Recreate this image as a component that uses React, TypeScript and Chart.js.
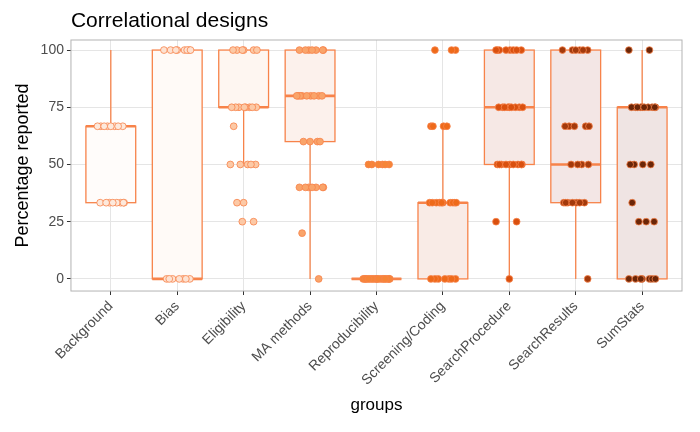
import React, { useEffect, useRef } from "react";
import { Chart, registerables } from "chart.js";
Chart.register(...registerables);

const categories = ["Background","Bias","Eligibility","MA methods","Reproducibility","Screening/Coding","SearchProcedure","SearchResults","SumStats"];
// [lowerWhisker, q1, median, q3, upperWhisker]
const boxStats = [
  [33.3,33.3,66.7,66.7,100],[0,0,0,100,100],[50,75,75,100,100],[0,60,80,100,100],
  [0,0,0,0,0],[0,0,33.3,33.3,66.7],[0,50,75,100,100],[0,33.3,50,100,100],[0,0,75,75,100]];
// [value, count] per group
const groupPoints = [
  [[66.7,8],[33.3,8]],
  [[100,8],[0,7]],
  [[100,6],[75,8],[66.7,1],[50,5],[33.3,2],[25,2]],
  [[100,7],[80,9],[60,4],[40,7],[20,1],[0,1]],
  [[50,6],[0,20]],
  [[100,3],[66.7,4],[33.3,10],[0,7]],
  [[100,8],[75,9],[50,9],[25,2],[0,1]],
  [[100,6],[66.7,5],[50,4],[33.3,7],[0,1]],
  [[100,2],[75,10],[50,4],[33.3,1],[25,3],[0,7]],
];
const pointFills = ["#fde9dc","#fde2d2","#fcc9a6","#f9a46a","#f68537","#ee6a1a","#d9500f","#a33a0c","#6b2608"];
const boxFills = ["#fffcfa","#fffaf7","#fef6f1","#fcf1ec","#fbede8","#f9ebe6","#f6e8e5","#f3e6e5","#efe4e3"];
const yTicks = [0,25,50,75,100];
const jitter = [-0.15,0.06,-0.05,0.18,-0.2,0.11,0.0,-0.1,0.15,-0.02,0.2,-0.16,0.09,-0.07,0.03,0.19,-0.12,0.13,-0.18,0.01];
const stroke = "#f7834a";
const font = "'Liberation Sans', Arial, sans-serif";

export default function App() {
  const ref = useRef<HTMLCanvasElement>(null);
  useEffect(() => {
    const datasets = groupPoints.map((g, gi) => {
      const data: any[] = []; let k = 0;
      g.forEach(([v, c]) => { for (let i = 0; i < c; i++) { data.push({ x: gi + 1 + jitter[(k + gi * 3) % jitter.length], y: v }); k++; } });
      return { type: "scatter" as const, data, backgroundColor: pointFills[gi], borderColor: stroke, borderWidth: 0.8, pointRadius: 3.4 };
    });
    const boxPlugin = {
      id: "boxes",
      beforeDatasetsDraw(chart: any) {
        const { ctx, scales: { x, y } } = chart;
        ctx.save(); ctx.strokeStyle = stroke; ctx.lineWidth = 1.3;
        boxStats.forEach((s, i) => {
          const cx = x.getPixelForValue(i + 1), hw = x.getPixelForValue(1.375) - x.getPixelForValue(1);
          const [lw, q1, med, q3, uw] = s.map((v) => y.getPixelForValue(v));
          ctx.beginPath(); ctx.moveTo(cx, q3); ctx.lineTo(cx, uw); ctx.moveTo(cx, q1); ctx.lineTo(cx, lw); ctx.stroke();
          ctx.fillStyle = boxFills[i]; ctx.fillRect(cx - hw, q3, 2 * hw, q1 - q3);
          ctx.strokeRect(cx - hw, q3, 2 * hw, q1 - q3);
          ctx.lineWidth = 2.6; ctx.beginPath(); ctx.moveTo(cx - hw, med); ctx.lineTo(cx + hw, med); ctx.stroke(); ctx.lineWidth = 1.3;
        });
        ctx.restore();
      },
      afterDraw(chart: any) {
        const { ctx, chartArea: a } = chart;
        ctx.save(); ctx.strokeStyle = "#b3b3b3"; ctx.lineWidth = 1; ctx.strokeRect(a.left, a.top, a.right - a.left, a.bottom - a.top);
        ctx.fillStyle = "#000"; ctx.font = `21px ${font}`; ctx.textBaseline = "alphabetic"; ctx.textAlign = "left";
        ctx.fillText("Correlational designs", a.left, 19);
        ctx.restore();
      },
    };
    const chart = new Chart(ref.current!, {
      type: "scatter",
      data: { datasets },
      plugins: [boxPlugin],
      options: {
        animation: false, responsive: false,
        layout: { padding: { right: 10, left: 0, top: 32, bottom: 4 } },
        plugins: { legend: { display: false }, tooltip: { enabled: false } },
        scales: {
          x: { type: "linear", min: 0.4, max: 9.6, afterBuildTicks: (ax: any) => { ax.ticks = categories.map((_, i) => ({ value: i + 1 })); },
            ticks: { autoSkip: false, maxRotation: 45, minRotation: 45, color: "#4d4d4d", font: { family: font, size: 14 }, callback: (v: any) => categories[Number(v) - 1] ?? "" },
            grid: { color: "#e5e5e5", drawTicks: true, tickLength: 4, tickColor: "#333" }, border: { display: false },
            title: { display: true, text: "groups", color: "#000", font: { family: font, size: 17 } } },
          y: { min: -5.3, max: 104.4, afterBuildTicks: (ax: any) => { ax.ticks = yTicks.map((v) => ({ value: v })); },
            ticks: { color: "#4d4d4d", font: { family: font, size: 14 } },
            grid: { color: "#e5e5e5", tickLength: 4, tickColor: "#333" }, border: { display: false },
            title: { display: true, text: "Percentage reported", color: "#000", font: { family: font, size: 18 } } },
        },
      },
    });
    return () => chart.destroy();
  }, []);
  return <canvas ref={ref} width={684} height={416} style={{ display: "block" }} />;
}
